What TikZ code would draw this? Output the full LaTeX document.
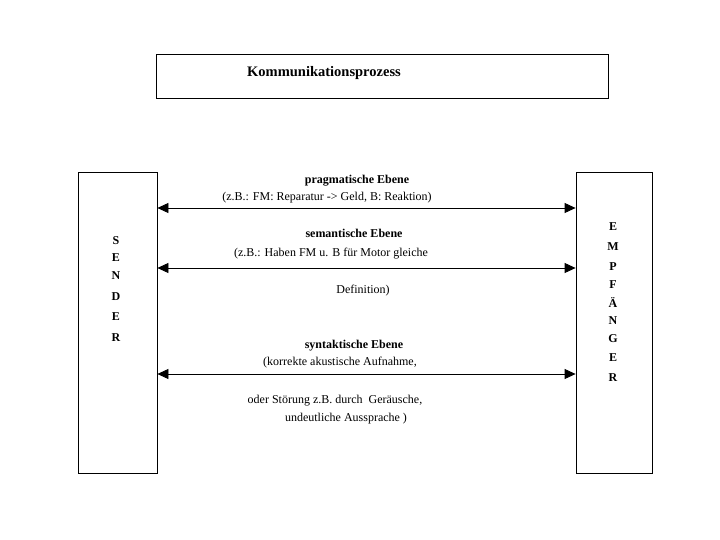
\documentclass[tikz,border=0pt]{standalone}
\usepackage{fontspec}
\setmainfont{Liberation Serif}
\usetikzlibrary{arrows.meta}

\tikzset{
    box/.style={draw, line width=0.8pt, inner sep=0pt},
    lbl/.style={font=\fontsize{12}{14}\selectfont, inner sep=0pt, anchor=base},
    hdr/.style={lbl, font=\fontsize{12}{14}\selectfont\bfseries},
    letter/.style={font=\fontsize{12}{14}\selectfont\bfseries, inner sep=0pt},
    arr/.style={line width=0.8pt, {Triangle[length=11pt,width=10pt]}-{Triangle[length=11pt,width=10pt]}}
}

\begin{document}
\begin{tikzpicture}[x=1pt, y=-1pt]
    \useasboundingbox (0,0) rectangle (720,540);

    % boxes
    \node[box, minimum width=452pt, minimum height=44pt] (title) at (382,76) {};
    \node[font=\fontsize{14.5}{16}\selectfont\bfseries, inner sep=0pt, anchor=base west] (titletext) at (247,77) {Kommunikationsprozess};
    \node[box, minimum width=79pt, minimum height=301pt] (sender) at (117.5,322.5) {};
    \node[box, minimum width=76pt, minimum height=301pt] (empf) at (614,322.5) {};

    % letters
    \foreach \l/\y [count=\i] in {S/241, E/258, N/276, D/297, E/317, R/338}
        \node[letter] (s\i) at (116,\y) {\l};
    \foreach \l/\y [count=\i] in {E/227, M/247, P/267, F/285, Ä/303, N/321, G/339, E/358, R/378}
        \node[letter] (e\i) at (613,\y) {\l};

    % arrows
    \coordinate (pragm) at (0,208);
    \coordinate (seman) at (0,268);
    \coordinate (synta) at (0,374);
    \draw[arr] (sender.east |- pragm) -- (empf.west |- pragm);
    \draw[arr] (sender.east |- seman) -- (empf.west |- seman);
    \draw[arr] (sender.east |- synta) -- (empf.west |- synta);

    % labels
    \node[hdr] (pragmhdr) at (357,184) {pragmatische Ebene};
    \node[lbl] (pragmtxt) at (327,201) {(z.B.: FM: Reparatur -> Geld, B: Reaktion)};
    \node[hdr] (semanhdr) at (354,237) {semantische Ebene};
    \node[lbl] (semantxt) at (331,256) {(z.B.: Haben FM u. B für Motor gleiche};
    \node[lbl] (semandef) at (363,293) {Definition)};
    \node[hdr] (syntahdr) at (354,348) {syntaktische Ebene};
    \node[lbl] (syntatxt) at (340,365) {(korrekte akustische Aufnahme,};
    \node[lbl] (syntast) at (335,403) {oder Störung z.B. durch\ \ Geräusche,};
    \node[lbl] (syntaaus) at (346,421) {undeutliche Aussprache )};
\end{tikzpicture}
\end{document}
